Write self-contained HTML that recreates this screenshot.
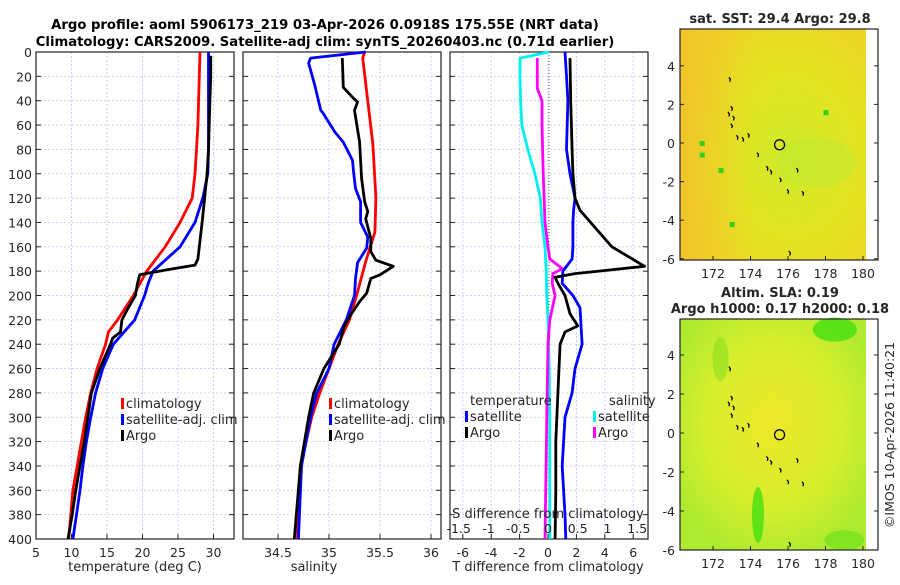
<!DOCTYPE html>
<html><head><meta charset="utf-8"><style>
html,body{margin:0;padding:0;background:#fff;}
svg text{font-family:"DejaVu Sans","Liberation Sans",sans-serif;fill:#262626;}
</style></head><body>
<svg id="c" width="900" height="580" xmlns="http://www.w3.org/2000/svg">
<defs>
<radialGradient id="sstg" cx="0.6" cy="0.55" r="0.65"><stop offset="0" stop-color="#cfea28"/><stop offset="0.55" stop-color="#e2e422"/><stop offset="1" stop-color="#eed424"/></radialGradient>
<linearGradient id="sstl" x1="0" x2="1" y1="0" y2="0"><stop offset="0" stop-color="#f2c02a" stop-opacity="0.85"/><stop offset="0.4" stop-color="#f2c82a" stop-opacity="0"/></linearGradient>
<radialGradient id="slag" cx="0.5" cy="0.45" r="0.6"><stop offset="0" stop-color="#eee82a"/><stop offset="0.6" stop-color="#d6ee2c"/><stop offset="1" stop-color="#aeea30"/></radialGradient>
</defs>
<g id="titles">
<text x="325" y="29" text-anchor="middle" font-size="13.2" font-weight="bold" style="fill:#000">Argo profile: aoml 5906173_219 03-Apr-2026 0.0918S 175.55E (NRT data)</text>
<text x="325" y="46" text-anchor="middle" font-size="13.2" font-weight="bold" style="fill:#000">Climatology: CARS2009. Satellite-adj clim: synTS_20260403.nc (0.71d earlier)</text>
</g>
<g id="p1"></g>
<g id="p2"></g>
<g id="p3"></g>
<g id="m1"></g>
<g id="m2"></g>
<text transform="translate(894,435) rotate(-90)" text-anchor="middle" font-size="12.5">©IMOS 10-Apr-2026 11:40:21</text>
</svg>
<script>
// ---- data ----
const depthTicks=[0,20,40,60,80,100,120,140,160,180,200,220,240,260,280,300,320,340,360,380,400];
const tempTicks=[5,10,15,20,25,30];
const salTicks=[34.5,35,35.5,36];
const tdiffTicks=[-6,-4,-2,0,2,4,6];
const sdiffTicks=[-1.5,-1,-0.5,0,0.5,1,1.5];
const sdiffLabels=["-1.5","-1","-0.5","0","0.5","1","1.5"];
const lonTicks=[172,174,176,178,180];
const latTicks=[4,2,0,-2,-4,-6];

const climDepth=[0,20,40,60,80,100,120,140,160,180,200,220,230,240,260,280,300,320,340,360,380,400];
const climTemp=[28.1,28.0,27.9,27.8,27.6,27.4,27.0,25.3,23.2,20.6,18.7,16.5,15.2,14.8,13.6,12.7,12.0,11.4,10.8,10.2,9.9,9.6];
const satDepth=[0,20,40,60,80,100,120,140,160,180,190,200,220,240,260,280,300,320,340,360,380,400];
const satTemp=[29.3,29.3,29.3,29.3,29.3,29.2,28.5,27.4,25.3,21.5,20.8,20.3,18.9,15.9,14.4,13.4,12.7,12.1,11.6,11.2,10.7,10.2];
const argoDepth=[3,20,40,60,80,100,140,170,175,178,180,183,190,200,210,220,230,235,240,260,280,300,320,340,360,380,400];
const argoTemp=[29.6,29.6,29.5,29.4,29.3,29.1,28.4,27.8,27.4,24.3,22.4,19.6,19.3,19.0,18.0,17.1,16.9,15.8,15.5,14.0,12.8,12.3,11.8,11.2,10.6,10.1,9.5];

const climSDepth=[0,5,76,120,148,172,197,220,240,260,280,300,340,400];
const climSal=[35.35,35.33,35.43,35.46,35.45,35.36,35.28,35.20,35.09,35.00,34.91,34.83,34.72,34.69];
const satSDepth=[0,5,9,27,48,50,66,74,89,98,112,123,140,152,161,173,186,200,220,240,260,280,300,340,400];
const satSal=[35.36,34.82,34.80,34.86,34.92,34.94,35.06,35.14,35.23,35.24,35.26,35.31,35.31,35.38,35.37,35.28,35.26,35.25,35.17,35.05,35.00,34.88,34.82,34.73,34.70];
const argoSDepth=[5,29,38,41,48,74,104,123,131,137,153,164,171,176,183,186,198,205,215,225,240,260,280,300,340,400];
const argoSal=[35.13,35.14,35.24,35.28,35.25,35.30,35.32,35.35,35.38,35.36,35.41,35.41,35.46,35.63,35.50,35.41,35.37,35.30,35.22,35.15,35.10,34.95,34.85,34.80,34.72,34.66];

const dTsatDepth=[0,20,40,80,100,120,130,140,160,170,180,190,200,210,220,240,260,280,300,340,380,400];
const dTsat=[1.2,1.3,1.4,1.3,1.55,1.9,1.8,1.75,1.75,1.7,1.05,1.0,1.75,2.25,2.3,2.4,1.9,1.7,1.2,1.0,1.2,1.25];
const dTargoDepth=[5,40,80,100,120,130,140,160,176,180,182,185,190,200,215,225,230,240,280,320,360,400];
const dTargo=[1.55,1.6,1.7,1.75,1.9,2.25,3.0,4.5,6.8,3.6,1.9,0.5,0.7,1.2,1.55,2.1,1.2,0.85,0.7,0.55,0.55,0.5];
const dSsatDepth=[0,5,20,40,60,80,100,120,140,160,180,200,220,260,300,400];
const dSsat=[0.02,-0.47,-0.47,-0.46,-0.44,-0.34,-0.22,-0.13,-0.1,-0.05,-0.03,-0.02,0.0,0.02,0.03,0.03];
const dSargoDepth=[5,30,40,60,100,140,160,170,178,182,190,200,220,240,300,400];
const dSargo=[-0.18,-0.18,-0.1,-0.1,-0.08,-0.05,0.0,0.03,0.24,0.08,0.07,0.12,0.03,0.0,-0.02,-0.05];

const coastLon=[172.9,173.0,172.85,173.1,173.0,173.3,173.6,173.9,174.4,174.9,175.1,175.6,176.0,176.5,176.8,176.1];
const coastLat=[3.3,1.8,1.5,1.3,0.9,0.3,0.2,0.4,-0.6,-1.3,-1.5,-1.9,-2.5,-1.4,-2.6,-5.7];
const floatLon=175.55, floatLat=-0.09;

// ---- helpers ----
const NS="http://www.w3.org/2000/svg";
function mk(tag,attrs,parent){const e=document.createElementNS(NS,tag);for(const k in attrs)e.setAttribute(k,attrs[k]);parent.appendChild(e);return e;}
const yTop=52,yBot=539;
const yD=d=>yTop+(d/400)*(yBot-yTop);

function panel(g,x0,x1,sx,ticks,labels,showY){
  for(const t of ticks){const x=sx(t);if(x>x0+1&&x<x1-1){const l=mk('line',{x1:x,x2:x,y1:yTop,y2:yBot,stroke:'#b8c4f0','stroke-width':0.8,'stroke-dasharray':'2,2'},g);}}
  for(const d of depthTicks){const y=yD(d);
    if(d>0&&d<400){const l=mk('line',{x1:x0,x2:x1,y1:y,y2:y,stroke:'#c8c8ec','stroke-width':0.8,'stroke-dasharray':'2,2'},g);}
    mk('line',{x1:x0,x2:x0+5,y1:y,y2:y,stroke:'#222'},g);mk('line',{x1:x1-5,x2:x1,y1:y,y2:y,stroke:'#222'},g);
    if(showY){const t=mk('text',{x:x0-4,y:y+5,'text-anchor':'end','font-size':12.5},g);t.textContent=d;}
  }
  ticks.forEach((t,i)=>{const x=sx(t);mk('line',{x1:x,x2:x,y1:yBot,y2:yBot-5,stroke:'#222'},g);
    if(labels){const tx=mk('text',{x:x,y:yBot+18,'text-anchor':'middle','font-size':12.5},g);tx.textContent=labels[i];}});
  const r=mk('rect',{x:x0,y:yTop,width:x1-x0,height:yBot-yTop,fill:'none',stroke:'#222','stroke-width':1.2},g);
  
}
function line(g,xs,ds,sx,color,name){
  const p=xs.map((v,i)=>(i?'L':'M')+sx(v).toFixed(1)+','+yD(ds[i]).toFixed(1)).join('');
  const e=mk('path',{d:p,fill:'none',stroke:color,'stroke-width':2.8,'stroke-linejoin':'round'},g);
  
}
function legend(g,x,y,items){
  items.forEach((it,i)=>{const yy=y+i*16;
    const r=mk('rect',{x:x,y:yy-10,width:3,height:11,fill:it[1]},g);
    const t=mk('text',{x:x+5,y:yy,'font-size':13},g);t.textContent=it[0];});
}
function label(g,x,y,txt,name,size,anchor){const t=mk('text',{x:x,y:y,'text-anchor':anchor||'middle','font-size':size||13},g);t.textContent=txt;return t;}

// ---- panel 1 ----
const g1=document.getElementById('p1');
const sxT=t=>36+(t-5)*7.1;
panel(g1,36,234,sxT,tempTicks,tempTicks.map(String),true);
line(g1,climTemp,climDepth,sxT,'#ff0000','climatology-temp-line');
line(g1,satTemp,satDepth,sxT,'#0000ff','satellite-temp-line');
line(g1,argoTemp,argoDepth,sxT,'#000000','argo-temp-line');
legend(g1,121,408,[['climatology','#ff0000'],['satellite-adj. clim','#0000ff'],['Argo','#000']]);
label(g1,135,571,'temperature (deg C)','x-axis-title-temperature');

// ---- panel 2 ----
const g2=document.getElementById('p2');
const sxS=s=>278+(s-34.5)*102;
panel(g2,243,441,sxS,salTicks,salTicks.map(String),false);
line(g2,climSal,climSDepth,sxS,'#ff0000','climatology-salinity-line');
line(g2,satSal,satSDepth,sxS,'#0000ff','satellite-salinity-line');
line(g2,argoSal,argoSDepth,sxS,'#000000','argo-salinity-line');
legend(g2,329,408,[['climatology','#ff0000'],['satellite-adj. clim','#0000ff'],['Argo','#000']]);
label(g2,314,571,'salinity','x-axis-title-salinity');

// ---- panel 3 ----
const g3=document.getElementById('p3');
const sxD=t=>548+t*14.2;
const sxSD=s=>548+s*59.5;
panel(g3,450,648,sxD,tdiffTicks,tdiffTicks.map(String),false);
{const z=mk('line',{x1:549,x2:549,y1:yTop,y2:yBot,stroke:'#555','stroke-width':1,'stroke-dasharray':'1,2'},g3);}
line(g3,dSsat,dSsatDepth,sxSD,'#00f0f0','satellite-salinity-diff-line');
line(g3,dSargo,dSargoDepth,sxSD,'#ff00ff','argo-salinity-diff-line');
line(g3,dTsat,dTsatDepth,sxD,'#0000ff','satellite-temp-diff-line');
line(g3,dTargo,dTargoDepth,sxD,'#000000','argo-temp-diff-line');
label(g3,470,405,'temperature','legend-title-temperature',13,'start');
label(g3,609,405,'salinity','legend-title-salinity',13,'start');
legend(g3,465,421,[['satellite','#0000ff'],['Argo','#000']]);
legend(g3,593,421,[['satellite','#00f0f0'],['Argo','#ff00ff']]);
label(g3,548,518,'S difference from climatology','s-diff-axis-title');
sdiffTicks.forEach((s,i)=>{label(g3,sxSD(s),533,sdiffLabels[i],'s-diff-tick-label',12.5);});
label(g3,548,571,'T difference from climatology','x-axis-title-tdiff');

// ---- maps ----
function map(g,top,bot,lat0y,pxPerLat,fill,titles,extra){
  const x0=680,x1=878,cx1=866;
  const sxL=l=>713+(l-172)*18.75;
  const syL=l=>lat0y-l*pxPerLat;
  titles.forEach((t,i)=>label(g,780,top-(titles.length-i)*16+10,t,'map-title',13,'middle').setAttribute('font-weight','bold'));
  const b=mk('rect',{x:x0,y:top,width:cx1-x0,height:bot-top,fill:fill},g);
  extra(g,x0,top,cx1,bot,sxL,syL);
  coastLon.forEach((lo,i)=>{const c=mk('path',{d:`M${sxL(lo)-1},${syL(coastLat[i])-2}l1.5,2l-0.5,2.5`,stroke:'#000','stroke-width':1.3,fill:'none'},g);});
  const f=mk('circle',{cx:sxL(floatLon),cy:syL(floatLat),r:5,fill:'none',stroke:'#000','stroke-width':1.3},g);
  const r=mk('rect',{x:x0,y:top,width:x1-x0,height:bot-top,fill:'none',stroke:'#222','stroke-width':1.2},g);
  latTicks.forEach(l=>{const y=syL(l);if(y<top-1)return;mk('line',{x1:x0,x2:x0+4,y1:y,y2:y,stroke:'#222'},g);mk('line',{x1:x1-4,x2:x1,y1:y,y2:y,stroke:'#222'},g);label(g,x0-5,y+5,String(l),'lat-tick-label',12.5,'end');});
  lonTicks.forEach(l=>{const x=sxL(l);mk('line',{x1:x,x2:x,y1:bot,y2:bot-4,stroke:'#222'},g);label(g,x,bot+18,String(l),'lon-tick-label',12.5);});
}
map(document.getElementById('m1'),29,260,143,19.3,'url(#sstg)',['sat. SST: 29.4 Argo: 29.8'],(g,x0,t,x1,b,sxL,syL)=>{
  mk('rect',{x:x0,y:t,width:x1-x0,height:b-t,fill:'url(#sstl)'},g);
  mk('ellipse',{cx:sxL(177.5),cy:syL(-1),rx:40,ry:25,fill:'#c0e830',opacity:0.5},g);
  [[171.4,0],[171.4,-0.6],[172.4,-1.4],[178,1.6],[173,-4.2]].forEach(p=>{const s=mk('rect',{x:sxL(p[0])-2,y:syL(p[1])-2,width:5,height:5,fill:'#30d020'},g);});
});
map(document.getElementById('m2'),319,550,433,19.5,'url(#slag)',['Altim. SLA: 0.19','Argo h1000: 0.17 h2000: 0.18'],(g,x0,t,x1,b,sxL,syL)=>{
  mk('ellipse',{cx:sxL(178.5),cy:syL(5.3),rx:22,ry:12,fill:'#44e010',opacity:0.8},g);
  mk('ellipse',{cx:sxL(174.4),cy:syL(-4.2),rx:6,ry:28,fill:'#44e010',opacity:0.8},g);
  mk('ellipse',{cx:sxL(172.4),cy:syL(3.8),rx:8,ry:22,fill:'#88e020',opacity:0.6},g);
  mk('ellipse',{cx:sxL(179),cy:syL(-5.5),rx:20,ry:10,fill:'#66e018',opacity:0.6},g);
});
</script>
</body></html>
